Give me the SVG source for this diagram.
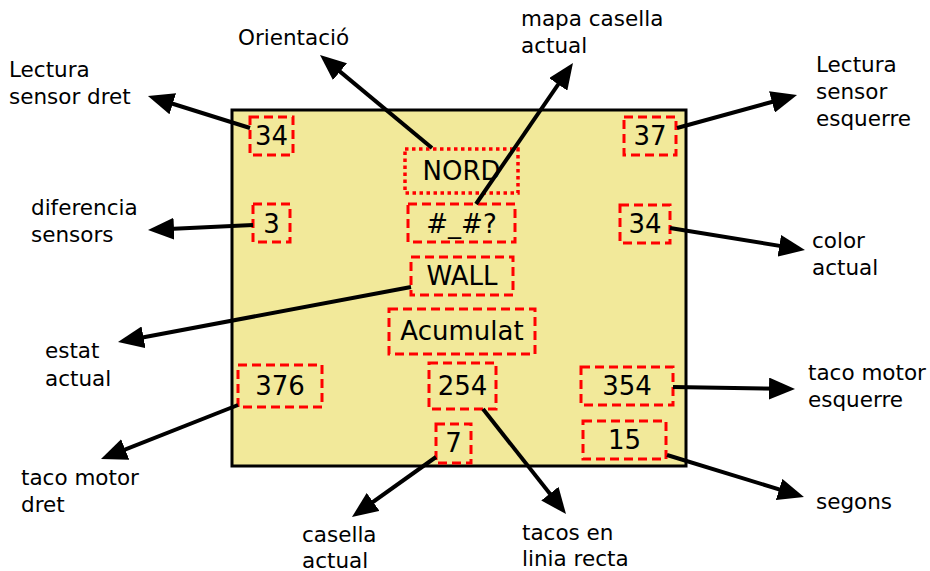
<svg xmlns="http://www.w3.org/2000/svg" width="930" height="571" viewBox="0 0 930 571">
  <style>
    .panel { fill: #f2e99a; stroke: #000; stroke-width: 3; }
    .field { fill: none; stroke: #ff0000; stroke-width: 3; stroke-dasharray: 9 5; }
    .dotted { fill: none; stroke: #ff0000; stroke-width: 3.5; stroke-dasharray: 3.5 3.5; }
    .val { font-family: "DejaVu Sans", sans-serif; font-size: 26px; fill: #000; text-anchor: middle; }
    .lbl { font-family: "DejaVu Sans", sans-serif; font-size: 21.5px; fill: #000; }
    .conn line { stroke: #000; stroke-width: 4; marker-end: url(#head); }
  </style>
  <defs>
    <marker id="head" viewBox="0 0 26 22" refX="16" refY="11" markerWidth="26" markerHeight="22" markerUnits="userSpaceOnUse" orient="auto">
      <path d="M0,0 L26,11 L0,22 Z" fill="#000"/>
    </marker>
  </defs>

  <rect class="panel" x="232" y="110" width="454" height="356"/>

  <g id="sensorDret"><rect class="field" x="250" y="117" width="43" height="38"/><text class="val" x="271.5" y="145">34</text></g>
  <g id="orientacio"><rect class="dotted" x="405" y="149" width="113" height="44"/><text class="val" x="461.5" y="180">NORD</text></g>
  <g id="mapa"><rect class="field" x="408" y="204" width="107" height="38"/><text class="val" x="461.5" y="233">#_#?</text></g>
  <g id="diferencia"><rect class="field" x="253" y="204" width="37" height="38"/><text class="val" x="271.5" y="233">3</text></g>
  <g id="sensorEsquerre"><rect class="field" x="624" y="117" width="52" height="38"/><text class="val" x="650" y="145">37</text></g>
  <g id="color"><rect class="field" x="620" y="205" width="50" height="38"/><text class="val" x="645" y="233">34</text></g>
  <g id="estat"><rect class="field" x="411" y="257" width="102" height="38"/><text class="val" x="462" y="285">WALL</text></g>
  <g id="acumulat"><rect class="field" x="389" y="309" width="146" height="45"/><text class="val" x="462" y="340">Acumulat</text></g>
  <g id="tacoDret"><rect class="field" x="238" y="365" width="84" height="42"/><text class="val" x="280" y="395">376</text></g>
  <g id="tacosRecta"><rect class="field" x="429" y="363" width="67" height="46"/><text class="val" x="462.5" y="395">254</text></g>
  <g id="tacoEsquerre"><rect class="field" x="581" y="367" width="92" height="38"/><text class="val" x="627" y="395">354</text></g>
  <g id="casella"><rect class="field" x="436" y="424" width="35" height="39"/><text class="val" x="453.5" y="452">7</text></g>
  <g id="segons"><rect class="field" x="583" y="421" width="83" height="38"/><text class="val" x="624.5" y="449">15</text></g>

  <g id="labels">
    <text class="lbl" x="9" y="77">Lectura</text>
    <text class="lbl" x="9" y="104">sensor dret</text>
    <text class="lbl" x="238" y="45">Orientació</text>
    <text class="lbl" x="521" y="26">mapa casella</text>
    <text class="lbl" x="521" y="53">actual</text>
    <text class="lbl" x="816" y="72">Lectura</text>
    <text class="lbl" x="816" y="99">sensor</text>
    <text class="lbl" x="816" y="126">esquerre</text>
    <text class="lbl" x="31" y="215">diferencia</text>
    <text class="lbl" x="31" y="242">sensors</text>
    <text class="lbl" x="812" y="248">color</text>
    <text class="lbl" x="812" y="275">actual</text>
    <text class="lbl" x="45" y="358">estat</text>
    <text class="lbl" x="45" y="386">actual</text>
    <text class="lbl" x="808" y="380">taco motor</text>
    <text class="lbl" x="808" y="407">esquerre</text>
    <text class="lbl" x="21" y="485">taco motor</text>
    <text class="lbl" x="21" y="512">dret</text>
    <text class="lbl" x="816" y="509">segons</text>
    <text class="lbl" x="302" y="542">casella</text>
    <text class="lbl" x="302" y="568">actual</text>
    <text class="lbl" x="522" y="540">tacos en</text>
    <text class="lbl" x="522" y="566">linia recta</text>
  </g>

  <g class="conn" id="connectors">
    <line x1="250" y1="128" x2="157.5" y2="99"/>
    <line x1="432" y1="148" x2="327.7" y2="61.4"/>
    <line x1="476" y1="204" x2="567.3" y2="71.2"/>
    <line x1="677" y1="128" x2="787.4" y2="97.7"/>
    <line x1="253" y1="225" x2="158" y2="229.5"/>
    <line x1="670" y1="228" x2="795.1" y2="248.4"/>
    <line x1="411" y1="287" x2="127.8" y2="340.2"/>
    <line x1="673" y1="387" x2="785" y2="388.8"/>
    <line x1="238" y1="405" x2="110.3" y2="455.3"/>
    <line x1="436" y1="457" x2="360.1" y2="511.2"/>
    <line x1="483" y1="409" x2="559.8" y2="506.2"/>
    <line x1="667" y1="455" x2="794.4" y2="494.1"/>
  </g>
</svg>
